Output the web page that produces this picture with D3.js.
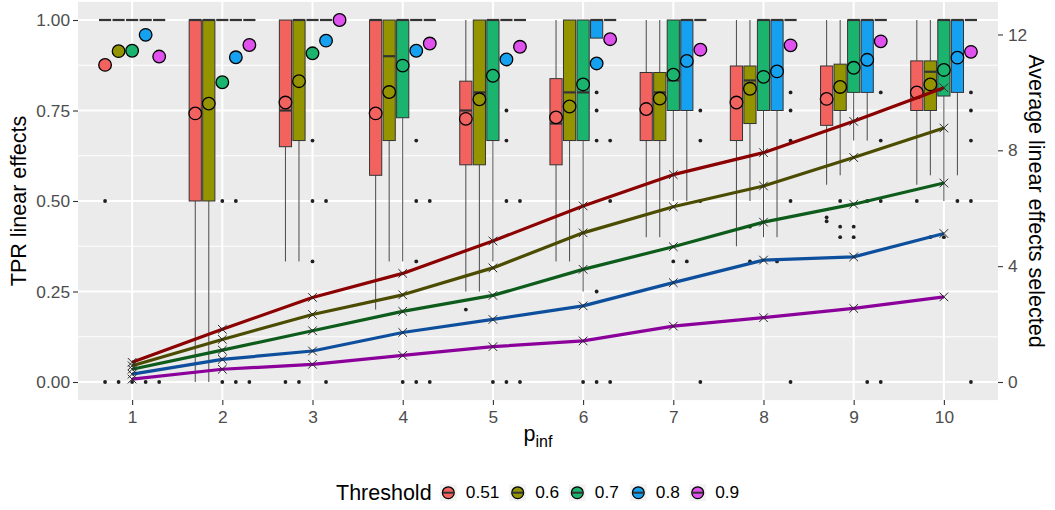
<!DOCTYPE html>
<html>
<head>
<meta charset="utf-8">
<script src="https://cdn.jsdelivr.net/npm/d3@7"></script>
<style>
  html, body { margin: 0; padding: 0; background: #ffffff; }
  svg { display: block; font-family: "Liberation Sans", Arial, Helvetica, sans-serif; }
</style>
</head>
<body>
<svg id="chart" width="1055" height="510"></svg>
<script>
// p_inf groups and threshold levels
const pinf = [1, 2, 3, 4, 5, 6, 7, 8, 9, 10];
const thresholds = ["0.51", "0.6", "0.7", "0.8", "0.9"];
const fillColors = ["#F26360", "#939400", "#1BB46E", "#16A0F0", "#E052EE"];
const lineColors = ["#8B0000", "#4C4C00", "#0D5C1C", "#0D4F9C", "#8B009B"];

// TPR box statistics: one row per p_inf, one column per threshold
const whiskerLow = [
  [1, 1, 1, 1, 1],
  [0, 0, 1, 1, 1],
  [0.333, 0.333, 1, 1, 1],
  [0.2, 0.333, 0.333, 1, 1],
  [0.25, 0.25, 0.333, 1, 1],
  [0.333, 0.333, 0.25, 0.95, 1],
  [0.4, 0.4, 0.5, 0.5, 1],
  [0.375, 0.5, 0.4, 0.4, 1],
  [0.545, 0.571, 0.667, 0.667, 1],
  [0.545, 0.571, 0.5, 0.571, 1]
];
const q1 = [
  [1, 1, 1, 1, 1],
  [0.5, 0.5, 1, 1, 1],
  [0.65, 0.667, 1, 1, 1],
  [0.571, 0.667, 0.73, 1, 1],
  [0.6, 0.6, 0.667, 1, 1],
  [0.6, 0.667, 0.667, 0.95, 1],
  [0.667, 0.667, 0.75, 0.75, 1],
  [0.667, 0.714, 0.75, 0.75, 1],
  [0.709, 0.75, 0.8, 0.8, 1],
  [0.75, 0.75, 0.79, 0.8, 1]
];
const median = [
  [1, 1, 1, 1, 1],
  [1, 1, 1, 1, 1],
  [0.75, 1, 1, 1, 1],
  [1, 0.9, 1, 1, 1],
  [0.75, 0.8, 1, 1, 1],
  [0.714, 0.8, 0.8, 1, 1],
  [0.75, 0.8, 0.833, 1, 1],
  [0.77, 0.833, 1, 1, 1],
  [0.78, 0.82, 1, 1, 1],
  [0.8, 0.857, 1, 1, 1]
];
const q3 = [
  [1, 1, 1, 1, 1],
  [1, 1, 1, 1, 1],
  [1, 1, 1, 1, 1],
  [1, 1, 1, 1, 1],
  [0.831, 1, 1, 1, 1],
  [0.838, 1, 1, 1, 1],
  [0.855, 0.855, 1, 1, 1],
  [0.873, 0.873, 1, 1, 1],
  [0.873, 0.878, 1, 1, 1],
  [0.887, 0.887, 1, 1, 1]
];
const whiskerHigh = [
  [1, 1, 1, 1, 1],
  [1, 1, 1, 1, 1],
  [1, 1, 1, 1, 1],
  [1, 1, 1, 1, 1],
  [1, 1, 1, 1, 1],
  [1, 1, 1, 1, 1],
  [1, 1, 1, 1, 1],
  [1, 1, 1, 1, 1],
  [1, 1, 1, 1, 1],
  [1, 1, 1, 1, 1]
];
const meanTPR = [
  [0.876, 0.914, 0.915, 0.959, 0.899],
  [0.742, 0.769, 0.828, 0.897, 0.931],
  [0.772, 0.831, 0.908, 0.943, 1.0],
  [0.742, 0.801, 0.874, 0.915, 0.935],
  [0.727, 0.781, 0.846, 0.891, 0.926],
  [0.731, 0.761, 0.822, 0.88, 0.947],
  [0.754, 0.783, 0.849, 0.887, 0.918],
  [0.772, 0.81, 0.843, 0.858, 0.93],
  [0.782, 0.815, 0.868, 0.89, 0.941],
  [0.8, 0.822, 0.862, 0.896, 0.912]
];
const outliers = [
  [[0.5, 0], [0], [0], [0], [0]],
  [[], [], [0.5, 0], [0.5, 0], [0]],
  [[0], [0], [0.667, 0.5, 0.333], [0.5, 0], []],
  [[], [], [0], [0.667, 0.5, 0.333, 0], [0.5, 0]],
  [[0.2], [], [0], [0.75, 0.667, 0.5, 0], [0.5, 0]],
  [[], [], [0], [0.8, 0.75, 0.667, 0.25, 0], [0.667, 0.5, 0]],
  [[], [], [0.333], [0.333], [0.75, 0.667, 0.5, 0]],
  [[], [0.429, 0.333], [], [0.333], [0.8, 0.75, 0.667, 0.5, 0]],
  [[0.455, 0.444], [0.5, 0.429, 0.4], [0.429, 0.4], [0.5, 0], [0.8, 0.667, 0.5, 0]],
  [[0.5], [0.4], [0.4], [0.5], [0.8, 0.75, 0.667, 0.5, 0]]
];

// Average number of linear effects selected (secondary axis), per threshold
const selected051 = [0.68, 1.82, 2.92, 3.75, 4.87, 6.08, 7.16, 7.92, 9.0, 10.16];
const selected06  = [0.56, 1.47, 2.33, 3.01, 3.94, 5.15, 6.05, 6.77, 7.75, 8.77];
const selected07  = [0.44, 1.10, 1.77, 2.44, 2.99, 3.89, 4.67, 5.52, 6.14, 6.87];
const selected08  = [0.27, 0.78, 1.07, 1.71, 2.16, 2.63, 3.43, 4.21, 4.32, 5.13];
const selected09  = [0.10, 0.44, 0.61, 0.92, 1.22, 1.42, 1.93, 2.22, 2.54, 2.94];
const selectedSeries = [selected051, selected06, selected07, selected08, selected09];

const yTicks = [0, 0.25, 0.5, 0.75, 1];
const yMinor = [0.125, 0.375, 0.625, 0.875];
const y2Ticks = [0, 4, 8, 12];
const secondaryFactor = 12.5;

// ---- layout ----
const panel = { left: 78, right: 998, top: 1.9, bottom: 400.1 };
const svg = d3.select("#chart");

const x = d3.scaleLinear().domain([0.4, 10.6]).range([panel.left, panel.right]);
const y = d3.scaleLinear().domain([-0.05, 1.05]).range([panel.bottom, panel.top]);
const y2 = d3.scaleLinear()
  .domain([-0.05 * secondaryFactor, 1.05 * secondaryFactor])
  .range([panel.bottom, panel.top]);

const dodge = 0.15;            // width of one threshold slot, in x units
const boxW = dodge * 0.9;      // box width after padding

svg.append("rect").attr("width", 1055).attr("height", 510).attr("fill", "#ffffff");
svg.append("rect")
  .attr("x", panel.left).attr("y", panel.top)
  .attr("width", panel.right - panel.left).attr("height", panel.bottom - panel.top)
  .attr("fill", "#EBEBEB");

// grid
const grid = svg.append("g");
grid.selectAll(".minor").data(yMinor).join("line")
  .attr("x1", panel.left).attr("x2", panel.right)
  .attr("y1", d => y(d)).attr("y2", d => y(d))
  .attr("stroke", "#ffffff").attr("stroke-width", 1);
grid.selectAll(".major").data(yTicks).join("line")
  .attr("x1", panel.left).attr("x2", panel.right)
  .attr("y1", d => y(d)).attr("y2", d => y(d))
  .attr("stroke", "#ffffff").attr("stroke-width", 2);
grid.selectAll(".vmajor").data(pinf).join("line")
  .attr("x1", d => x(d)).attr("x2", d => x(d))
  .attr("y1", panel.top).attr("y2", panel.bottom)
  .attr("stroke", "#ffffff").attr("stroke-width", 2);

// boxplots
const boxes = [];
pinf.forEach((p, gi) => {
  thresholds.forEach((t, ti) => {
    boxes.push({
      gi, ti, cx: p + (ti - 2) * dodge,
      lo: whiskerLow[gi][ti], q1: q1[gi][ti], med: median[gi][ti],
      q3: q3[gi][ti], hi: whiskerHigh[gi][ti], mean: meanTPR[gi][ti],
      out: outliers[gi][ti]
    });
  });
});

const gBox = svg.append("g");
boxes.forEach(b => {
  const g = gBox.append("g");
  const cx = x(b.cx);
  const hw = (x(boxW) - x(0)) / 2;
  g.append("line").attr("x1", cx).attr("x2", cx)
    .attr("y1", y(b.hi)).attr("y2", y(b.q3))
    .attr("stroke", "#4a4a4a").attr("stroke-width", 1);
  g.append("line").attr("x1", cx).attr("x2", cx)
    .attr("y1", y(b.q1)).attr("y2", y(b.lo))
    .attr("stroke", "#4a4a4a").attr("stroke-width", 1);
  g.append("rect")
    .attr("x", cx - hw).attr("width", 2 * hw)
    .attr("y", y(b.q3)).attr("height", Math.max(0, y(b.q1) - y(b.q3)))
    .attr("fill", fillColors[b.ti]).attr("stroke", "#333333").attr("stroke-width", 1);
  g.append("line").attr("x1", cx - hw).attr("x2", cx + hw)
    .attr("y1", y(b.med)).attr("y2", y(b.med))
    .attr("stroke", "#333333").attr("stroke-width", 2.2);
  g.selectAll("circle.out").data(b.out).join("circle")
    .attr("cx", cx).attr("cy", d => y(d)).attr("r", 1.9)
    .attr("fill", "#1f1f1f");
});

// mean markers
svg.append("g").selectAll("circle").data(boxes).join("circle")
  .attr("cx", d => x(d.cx)).attr("cy", d => y(d.mean)).attr("r", 6.3)
  .attr("fill", d => fillColors[d.ti])
  .attr("stroke", "#000000").attr("stroke-width", 1.3);

// secondary-axis lines with cross markers
const line = d3.line().x((d, i) => x(pinf[i])).y(d => y2(d));
const gLines = svg.append("g");
selectedSeries.forEach((s, ti) => {
  gLines.append("path").datum(s)
    .attr("d", line).attr("fill", "none")
    .attr("stroke", lineColors[ti]).attr("stroke-width", 3.2)
    .attr("stroke-linejoin", "round").attr("stroke-linecap", "butt");
});
selectedSeries.forEach((s, ti) => {
  gLines.append("g").selectAll("path").data(s).join("path")
    .attr("d", (d, i) => {
      const cx = x(pinf[i]), cy = y2(d), r = 4.3;
      return `M${cx - r},${cy - r}L${cx + r},${cy + r}M${cx - r},${cy + r}L${cx + r},${cy - r}`;
    })
    .attr("stroke", "#2b2b2b").attr("stroke-width", 1).attr("fill", "none");
});

// axes
function styleAxis(g) {
  g.select(".domain").remove();
  g.selectAll(".tick line").attr("stroke", "#333333").attr("stroke-width", 1.1);
  g.selectAll(".tick text").attr("fill", "#4D4D4D")
    .style("font-size", "17.3px").style("font-family", '"Liberation Sans", Arial, sans-serif');
}
svg.append("g").attr("transform", `translate(${panel.left},0)`)
  .call(d3.axisLeft(y).tickValues(yTicks).tickFormat(d3.format(".2f")).tickSize(5).tickPadding(3))
  .call(styleAxis);
svg.append("g").attr("transform", `translate(${panel.right},0)`)
  .call(d3.axisRight(y2).tickValues(y2Ticks).tickFormat(d3.format("d")).tickSize(5).tickPadding(5))
  .call(styleAxis);
svg.append("g").attr("transform", `translate(0,${panel.bottom})`)
  .call(d3.axisBottom(x).tickValues(pinf).tickFormat(d3.format("d")).tickSize(5).tickPadding(6))
  .call(styleAxis);

// axis titles
const titleFont = "21.5px";
svg.append("text")
  .attr("transform", `translate(25.7,${(panel.top + panel.bottom) / 2}) rotate(-90)`)
  .attr("text-anchor", "middle").style("font-size", titleFont).attr("fill", "#000")
  .text("TPR linear effects");
svg.append("text")
  .attr("transform", `translate(1029,${(panel.top + panel.bottom) / 2}) rotate(90)`)
  .attr("text-anchor", "middle").style("font-size", titleFont).attr("fill", "#000")
  .text("Average linear effects selected");
const xt = svg.append("text")
  .attr("x", (panel.left + panel.right) / 2).attr("y", 441.2)
  .attr("text-anchor", "middle").style("font-size", titleFont).attr("fill", "#000");
xt.append("tspan").text("p");
xt.append("tspan").attr("dy", 5.3).style("font-size", "16px").text("inf");

// legend
const lg = svg.append("g");
lg.append("text").attr("x", 336).attr("y", 500.2)
  .style("font-size", titleFont).attr("fill", "#000").text("Threshold");
const keyX = [448.3, 517.7, 577.3, 638.3, 697.7];
thresholds.forEach((t, i) => {
  const cx = keyX[i], cy = 492.7;
  lg.append("rect").attr("x", cx - 8.3).attr("y", cy - 8.3).attr("width", 16.6).attr("height", 16.6)
    .attr("fill", "#F2F2F2");
  lg.append("circle").attr("cx", cx).attr("cy", cy).attr("r", 5.9)
    .attr("fill", fillColors[i]).attr("stroke", "#000").attr("stroke-width", 1.3);
  lg.append("line").attr("x1", cx - 5.5).attr("x2", cx + 5.5).attr("y1", cy).attr("y2", cy)
    .attr("stroke", "#333").attr("stroke-width", 2);
  lg.append("text").attr("x", cx + 17.5).attr("y", 498.1)
    .style("font-size", "17.3px").attr("fill", "#000").text(t);
});
</script>
</body>
</html>
